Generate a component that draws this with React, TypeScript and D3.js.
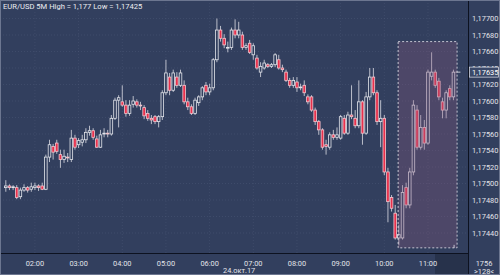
import React from "react";
import * as d3 from "d3";

const W = 500;
const H = 275;
const title = "EUR/USD 5M High = 1,177 Low = 1,17425";
const startMinute = 80; // 01:20
const stepMinutes = 5;

const open = [
  1.17495,1.17497,1.17495,1.17495,1.17484,1.17492,1.17495,1.17493,1.17495,1.17497,
  1.17497,1.17493,1.17532,1.17545,1.17549,1.17535,1.17529,1.17532,1.17529,1.17555,
  1.17547,1.17550,1.17553,1.17562,1.17564,1.17554,1.17544,1.17560,1.17561,1.17560,
  1.17579,1.17601,1.17599,1.17595,1.17585,1.17596,1.17599,1.17595,1.17592,1.17585,
  1.17579,1.17581,1.17575,1.17581,1.17610,1.17629,1.17613,1.17629,1.17619,1.17619,
  1.17599,1.17593,1.17585,1.17598,1.17605,1.17619,1.17611,1.17616,1.17650,1.17686,
  1.17676,1.17664,1.17665,1.17686,1.17680,1.17680,1.17665,1.17670,1.17656,1.17652,
  1.17635,1.17640,1.17644,1.17642,1.17644,1.17650,1.17640,1.17635,1.17625,1.17619,
  1.17623,1.17616,1.17619,1.17605,1.17605,1.17589,1.17575,1.17565,1.17547,1.17544,
  1.17559,1.17556,1.17555,1.17579,1.17561,1.17583,1.17579,1.17570,1.17599,1.17561,
  1.17605,1.17629,1.17610,1.17575,1.17579,1.17514,1.17483,1.17464,1.17434,1.17434,
  1.17495,1.17474,1.17514,1.17589,1.17544,1.17568,1.17549,1.17630,1.17635,1.17624,
  1.17599,1.17589,1.17615,1.17605,
];
const high = [
  1.17504,1.17499,1.17498,1.17498,1.17495,1.17499,1.17497,1.17501,1.17501,1.17499,
  1.17501,1.17535,1.17553,1.17548,1.17553,1.17541,1.17541,1.17537,1.17565,1.17559,
  1.17555,1.17559,1.17567,1.17570,1.17567,1.17558,1.17565,1.17567,1.17565,1.17583,
  1.17604,1.17607,1.17619,1.17601,1.17601,1.17606,1.17602,1.17599,1.17595,1.17589,
  1.17583,1.17583,1.17583,1.17613,1.17650,1.17634,1.17638,1.17635,1.17638,1.17625,
  1.17604,1.17596,1.17604,1.17607,1.17618,1.17623,1.17621,1.17652,1.17700,1.17691,
  1.17681,1.17672,1.17689,1.17699,1.17696,1.17684,1.17670,1.17674,1.17670,1.17656,
  1.17647,1.17650,1.17646,1.17646,1.17658,1.17656,1.17644,1.17638,1.17628,1.17629,
  1.17629,1.17621,1.17625,1.17608,1.17607,1.17592,1.17577,1.17567,1.17553,1.17562,
  1.17565,1.17568,1.17583,1.17583,1.17587,1.17619,1.17589,1.17625,1.17601,1.17611,
  1.17640,1.17640,1.17613,1.17601,1.17583,1.17519,1.17486,1.17474,1.17450,1.17498,
  1.17501,1.17519,1.17601,1.17595,1.17583,1.17577,1.17638,1.17659,1.17638,1.17628,
  1.17604,1.17613,1.17619,1.17638,
];
const low = [
  1.17490,1.17492,1.17492,1.17481,1.17481,1.17490,1.17489,1.17490,1.17492,1.17491,
  1.17492,1.17492,1.17526,1.17529,1.17536,1.17519,1.17525,1.17526,1.17526,1.17541,
  1.17543,1.17545,1.17549,1.17558,1.17553,1.17543,1.17543,1.17556,1.17556,1.17558,
  1.17577,1.17568,1.17593,1.17581,1.17582,1.17592,1.17592,1.17589,1.17578,1.17576,
  1.17572,1.17572,1.17568,1.17577,1.17607,1.17607,1.17611,1.17616,1.17617,1.17596,
  1.17589,1.17583,1.17583,1.17594,1.17601,1.17607,1.17607,1.17613,1.17647,1.17672,
  1.17664,1.17659,1.17662,1.17676,1.17676,1.17662,1.17662,1.17657,1.17650,1.17638,
  1.17629,1.17638,1.17640,1.17640,1.17641,1.17638,1.17635,1.17623,1.17616,1.17616,
  1.17611,1.17613,1.17606,1.17596,1.17587,1.17571,1.17559,1.17541,1.17535,1.17541,
  1.17553,1.17553,1.17553,1.17559,1.17559,1.17578,1.17567,1.17567,1.17547,1.17559,
  1.17601,1.17607,1.17571,1.17544,1.17510,1.17453,1.17466,1.17432,1.17425,1.17432,
  1.17470,1.17470,1.17510,1.17541,1.17541,1.17541,1.17547,1.17625,1.17616,1.17601,
  1.17579,1.17579,1.17601,1.17601,
];
const close = [
  1.17497,1.17495,1.17496,1.17483,1.17492,1.17495,1.17492,1.17496,1.17497,1.17495,
  1.17493,1.17532,1.17547,1.17538,1.17539,1.17529,1.17533,1.17531,1.17555,1.17544,
  1.17552,1.17553,1.17562,1.17564,1.17556,1.17544,1.17559,1.17561,1.17560,1.17579,
  1.17601,1.17604,1.17595,1.17585,1.17595,1.17600,1.17595,1.17594,1.17582,1.17579,
  1.17577,1.17575,1.17581,1.17610,1.17634,1.17613,1.17634,1.17619,1.17634,1.17599,
  1.17593,1.17585,1.17601,1.17605,1.17616,1.17611,1.17616,1.17650,1.17686,1.17676,
  1.17668,1.17665,1.17686,1.17680,1.17686,1.17665,1.17667,1.17659,1.17667,1.17640,
  1.17642,1.17646,1.17642,1.17644,1.17656,1.17640,1.17638,1.17625,1.17619,1.17625,
  1.17616,1.17617,1.17610,1.17599,1.17589,1.17575,1.17565,1.17544,1.17545,1.17559,
  1.17556,1.17559,1.17581,1.17561,1.17583,1.17581,1.17570,1.17599,1.17561,1.17605,
  1.17629,1.17610,1.17575,1.17579,1.17514,1.17478,1.17470,1.17434,1.17438,1.17489,
  1.17474,1.17514,1.17595,1.17544,1.17568,1.17549,1.17635,1.17635,1.17619,1.17605,
  1.17589,1.17610,1.17605,1.17635,
];

const priceTicks = [
  1.177, 1.1768, 1.1766, 1.1764, 1.1762, 1.176, 1.1758,
  1.1756, 1.1754, 1.1752, 1.175, 1.1748, 1.1746, 1.1744,
];
const hourTicks = [120, 180, 240, 300, 360, 420, 480, 540, 600, 660];
const hourLabels = ["02:00", "03:00", "04:00", "05:00", "06:00", "07:00", "08:00", "09:00", "10:00", "11:00"];
const lastPrice = 1.17635;
const dateLabel = "24.окт.17";
const cornerTop = "1756";
const cornerBottom = ">128<";
const boxTimes = [619, 700];
const boxPrices = [1.17672, 1.17422];

const plotR = 468;
const plotB = 253;

const x = d3.scaleLinear().domain([72, 715]).range([0, plotR]);
const y = d3.scaleLinear().domain([1.1744, 1.177]).range([233, 18.5]);
const fmt = (p: number) => d3.format(".5f")(p).replace(".", ",");

const BG = "#323f5e";
const FONT = "Roboto, 'Liberation Sans', sans-serif";

export default function App() {
  const n = Math.min(open.length, high.length, low.length, close.length);
  const idx = d3.range(n);
  const bw = 2.6;
  const lastX = x(startMinute + (n - 1) * stepMinutes);
  return (
    <div style={{ position: "fixed", left: 0, top: 0 }}>
      <svg width={W} height={H} style={{ display: "block" }}>
        <rect x={0} y={0} width={W} height={H} fill={BG} />
        {/* dark strip in bottom axis */}
        <rect x={435} y={plotB} width={plotR - 435} height={H - plotB} fill="#27324b" />
        {/* grid */}
        {priceTicks.map((p) => (
          <line key={"gy" + p} x1={0} x2={plotR} y1={y(p)} y2={y(p)} stroke="#55627f" strokeWidth={0.6} strokeDasharray="1 2" opacity={0.6} />
        ))}
        {hourTicks.map((t) => (
          <line key={"gx" + t} x1={x(t)} x2={x(t)} y1={0} y2={plotB} stroke="#55627f" strokeWidth={0.6} strokeDasharray="1 2" opacity={0.6} />
        ))}
        {/* candles */}
        {idx.map((i) => {
          const cx = x(startMinute + i * stepMinutes);
          const o = open[i], c = close[i];
          const up = c >= o;
          const top = y(Math.max(o, c));
          const bot = y(Math.min(o, c));
          return (
            <g key={i}>
              <line x1={cx} x2={cx} y1={y(high[i])} y2={y(low[i])} stroke="#c9ccd6" strokeWidth={0.9} />
              <rect
                x={cx - bw / 2}
                y={top}
                width={bw}
                height={Math.max(bot - top, 0.8)}
                fill={up ? BG : "#e8304c"}
                stroke={up ? "#e4e6ec" : "#f3c6ce"}
                strokeWidth={0.8}
              />
            </g>
          );
        })}
        <line x1={lastX + 2} x2={lastX + 7} y1={y(lastPrice)} y2={y(lastPrice)} stroke="#e8e8ee" strokeWidth={0.8} />
        {/* selection box */}
        <rect
          x={x(boxTimes[0])}
          y={y(boxPrices[0])}
          width={x(boxTimes[1]) - x(boxTimes[0])}
          height={y(boxPrices[1]) - y(boxPrices[0])}
          fill="#8a5a7e"
          fillOpacity={0.32}
          stroke="#e6e6ee"
          strokeWidth={0.8}
          strokeDasharray="2 2"
        />
        <line x1={x(boxTimes[1]) - 3} x2={x(boxTimes[1]) - 3} y1={y(boxPrices[1]) - 3} y2={y(boxPrices[1])} stroke="#e6e6ee" strokeWidth={0.8} />
        {/* axes lines */}
        <line x1={plotR + 0.5} x2={plotR + 0.5} y1={0} y2={H} stroke="#0d1220" strokeWidth={1} />
        <line x1={0} x2={plotR} y1={plotB + 0.5} y2={plotB + 0.5} stroke="#0d1220" strokeWidth={1} />
        <rect x={0.5} y={0.5} width={W - 1} height={H - 1} fill="none" stroke="#6c7690" strokeWidth={1} />
        {/* y labels */}
        {priceTicks.map((p) => (
          <text key={"ty" + p} x={472} y={y(p)} dy="0.35em" fontFamily={FONT} fontSize={7.4} fill="#e2e4ea">
            {fmt(p)}
          </text>
        ))}
        <rect x={469.5} y={y(lastPrice) - 5} width={29} height={10} fill="#3b4969" stroke="#dfe2ea" strokeWidth={0.7} />
        <text x={472} y={y(lastPrice)} dy="0.35em" fontFamily={FONT} fontSize={7.4} fill="#ffffff">
          {fmt(lastPrice)}
        </text>
        {/* x labels */}
        {hourTicks.map((t, k) => (
          <text key={"tx" + t} x={x(t)} y={263} dy="0.35em" textAnchor="middle" fontFamily={FONT} fontSize={7.4} fill="#e2e4ea">
            {hourLabels[k]}
          </text>
        ))}
        <text x={x(420) + 2} y={270.5} dy="0.35em" textAnchor="end" fontFamily={FONT} fontSize={7.4} fill="#e2e4ea">
          {dateLabel}
        </text>
        <text x={484} y={263} dy="0.35em" textAnchor="middle" fontFamily={FONT} fontSize={7.4} fill="#e2e4ea">
          {cornerTop}
        </text>
        <text x={484} y={271.5} dy="0.35em" textAnchor="middle" fontFamily={FONT} fontSize={7.4} fill="#e2e4ea">
          {cornerBottom}
        </text>
        {/* title */}
        <text x={3} y={6.5} dy="0.35em" fontFamily={FONT} fontSize={7.6} fill="#eceef2">
          {title}
        </text>
      </svg>
    </div>
  );
}
